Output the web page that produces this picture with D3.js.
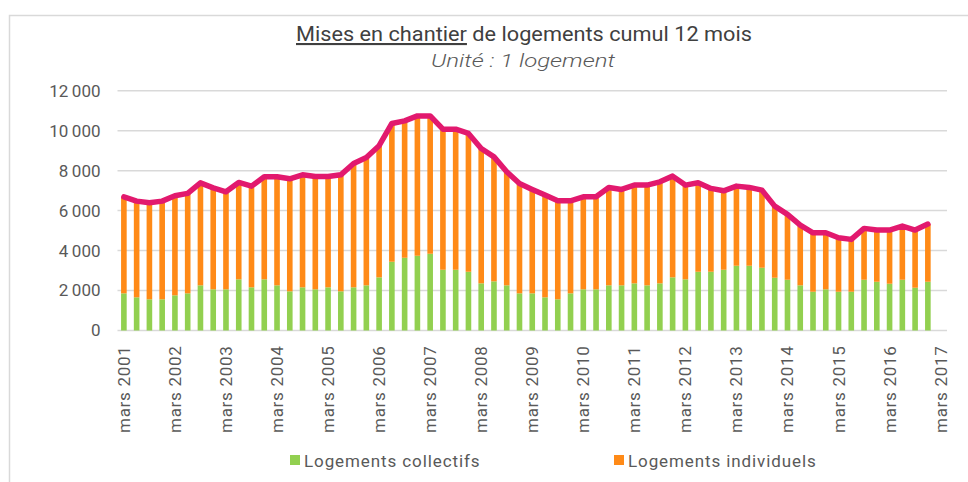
<!DOCTYPE html>
<html>
<head>
<meta charset="utf-8">
<script src="https://cdn.jsdelivr.net/npm/d3@7"></script>
<style>
  body { margin: 0; background: #fff; }
  svg { font-family: Roboto, "Noto Sans", sans-serif; }
</style>
</head>
<body>
<svg id="chart" width="968" height="482"></svg>
<script>
// quarterly, mars 2001 .. déc 2016 (mars 2017 slot is empty)
const collectifs = [
  1860, 1660, 1560, 1560, 1760, 1860, 2260, 2060, 2060, 2560, 2160, 2560, 2260, 1960, 2160, 2060,
  2160, 1960, 2160, 2260, 2660, 3440, 3640, 3740, 3840, 3040, 3040, 2940, 2360, 2460, 2260, 1860,
  1860, 1660, 1560, 1860, 2060, 2060, 2260, 2260, 2360, 2260, 2360, 2660, 2560, 2940, 2940, 3040,
  3240, 3240, 3140, 2640, 2540, 2260, 1940, 2060, 1940, 1940, 2540, 2440, 2340, 2540, 2140, 2440
];
const totals = [
  6690, 6475, 6390, 6475, 6740, 6860, 7390, 7140, 6940, 7410, 7225, 7690, 7690, 7590, 7790, 7710,
  7710, 7790, 8360, 8660, 9250, 10360, 10490, 10740, 10740, 10075, 10075, 9860, 9110, 8690, 7940, 7360,
  7060, 6775, 6490, 6490, 6690, 6690, 7160, 7060, 7275, 7275, 7440, 7725, 7275, 7390, 7110, 6990,
  7225, 7160, 7025, 6225, 5810, 5275, 4890, 4890, 4640, 4560, 5110, 5025, 5025, 5225, 5025, 5325
];
const individuels = totals.map((t, i) => t - collectifs[i]);

const years = d3.range(2001, 2018);
const months = ["mars", "juin", "sept", "déc"];
const categories = years.flatMap(y => months.map(m => `${m} ${y}`)).slice(0, 65);
const yTicks = [0, 2000, 4000, 6000, 8000, 10000, 12000];

const seriesNames = ["Logements collectifs", "Logements individuels"];
const colors = { collectifs: "#92D050", individuels: "#FF8A17", total: "#E2196E" };
const textColor = "#595959";

const svg = d3.select("#chart");
const margin = { top: 90.7, left: 117.5, right: 21, bottom: 151.5 };
const width = 968, height = 482;

// outer frame
svg.append("rect")
  .attr("x", 9.5).attr("y", 15.5)
  .attr("width", 980).attr("height", 500)
  .attr("fill", "none").attr("stroke", "#d9d9d9").attr("stroke-width", 1.5);

const x = d3.scaleBand()
  .domain(categories)
  .range([margin.left, width - margin.right])
  .paddingInner(0.56)
  .paddingOuter(0.28);

const y = d3.scaleLinear()
  .domain([0, 12000])
  .range([height - margin.bottom, margin.top]);

const fr = d3.formatLocale({ decimal: ",", thousands: "\u2009", grouping: [3], currency: ["", " €"] });

// grid
svg.append("g")
  .selectAll("line")
  .data(yTicks)
  .join("line")
    .attr("x1", margin.left)
    .attr("x2", width - margin.right)
    .attr("y1", d => y(d))
    .attr("y2", d => y(d))
    .attr("stroke", "#d9d9d9")
    .attr("stroke-width", 1.5);

// y axis labels
const yAxis = d3.axisLeft(y).tickValues(yTicks).tickFormat(fr.format(",")).tickSize(0).tickPadding(0);
svg.append("g")
  .attr("transform", `translate(${ margin.left - 17 },0)`)
  .call(yAxis)
  .call(g => g.select(".domain").remove())
  .selectAll("text")
    .attr("fill", textColor)
    .attr("font-size", "17px")
    .attr("font-family", "Roboto, sans-serif");

// stacked bars
const stackData = collectifs.map((c, i) => ({ cat: categories[i], collectifs: c, individuels: individuels[i] }));
const stack = d3.stack().keys(["collectifs", "individuels"])(stackData);

svg.append("g")
  .selectAll("g")
  .data(stack)
  .join("g")
    .attr("fill", d => colors[d.key])
  .selectAll("rect")
  .data(d => d)
  .join("rect")
    .attr("x", d => x(d.data.cat))
    .attr("width", x.bandwidth())
    .attr("y", d => y(d[1]))
    .attr("height", d => y(d[0]) - y(d[1]));

// total line
const line = d3.line()
  .x((d, i) => x(categories[i]) + x.bandwidth() / 2)
  .y(d => y(d));

svg.append("path")
  .datum(totals)
  .attr("d", line)
  .attr("fill", "none")
  .attr("stroke", colors.total)
  .attr("stroke-width", 5.5)
  .attr("stroke-linejoin", "round")
  .attr("stroke-linecap", "round");

// x axis labels, every 4th category
const xLabels = categories.filter((d, i) => i % 4 === 0);
svg.append("g")
  .selectAll("text")
  .data(xLabels)
  .join("text")
    .attr("transform", d => `translate(${ x(d) + x.bandwidth() / 2 + 6 }, ${ height - margin.bottom + 15 }) rotate(-90)`)
    .attr("text-anchor", "end")
    .attr("fill", textColor)
    .attr("font-size", "17px")
    .attr("letter-spacing", "0.7px")
    .text(d => d);

// title
const title = svg.append("text")
  .attr("x", 524)
  .attr("y", 41)
  .attr("text-anchor", "middle")
  .attr("fill", "#404040")
  .attr("font-size", "21px")
  .attr("textLength", 456)
  .attr("lengthAdjust", "spacingAndGlyphs");
title.append("tspan").attr("text-decoration", "underline").text("Mises en chantier");
title.append("tspan").text(" de logements cumul 12 mois");

svg.append("text")
  .attr("x", 523)
  .attr("y", 67)
  .attr("text-anchor", "middle")
  .attr("fill", textColor)
  .attr("font-size", "19px")
  .attr("font-style", "italic")
  .attr("font-weight", 300)
  .attr("textLength", 184)
  .attr("lengthAdjust", "spacingAndGlyphs")
  .text("Unité : 1 logement");

// legend
const legendX = [290, 614];
const legend = svg.append("g")
  .selectAll("g")
  .data(seriesNames)
  .join("g")
    .attr("transform", (d, i) => `translate(${ legendX[i] }, 455)`);
legend.append("rect")
  .attr("width", 10).attr("height", 10)
  .attr("fill", (d, i) => i === 0 ? colors.collectifs : colors.individuels);
legend.append("text")
  .attr("x", 14)
  .attr("y", 12)
  .attr("fill", textColor)
  .attr("font-size", "17px")
  .attr("letter-spacing", "0.9px")
  .text(d => d);
</script>
</body>
</html>
